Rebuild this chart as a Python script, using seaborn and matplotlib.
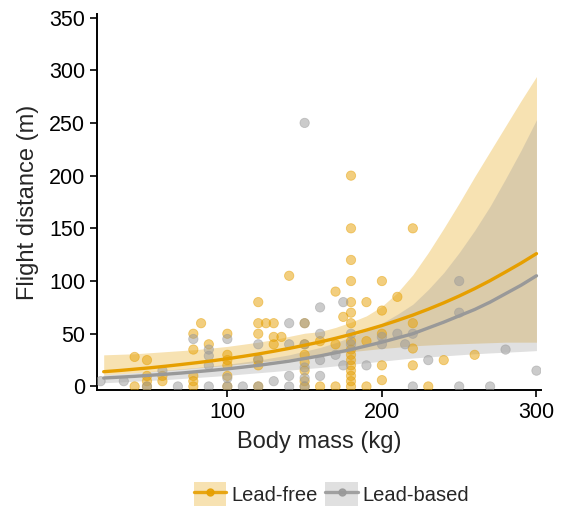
import numpy as np
import pandas as pd
import matplotlib
matplotlib.use("Agg")
import matplotlib.pyplot as plt
import seaborn as sns
from matplotlib.patches import Patch
from matplotlib.lines import Line2D

free_mass = [40, 40, 48, 48, 48, 48, 58, 58, 83, 78, 78, 78, 78, 78, 88,
             100, 100, 100, 100, 100, 100, 120, 120, 125, 130, 120, 130, 135, 130, 120,
             120, 120, 140, 150, 150, 150, 150, 150, 150, 150, 160, 160, 170, 175, 170,
             170, 180, 180, 180, 180, 180, 180, 180, 180, 180, 180, 180, 180, 180, 180,
             180, 180, 190, 190, 190, 200, 200, 200, 200, 200, 210, 220, 220, 220, 220,
             230, 240, 260]
free_dist = [28, 0, 25, 10, 5, 0, 10, 5, 60, 50, 35, 10, 5, 0, 40,
             50, 30, 25, 20, 10, 0, 80, 60, 60, 60, 50, 47, 47, 40, 25,
             20, 0, 105, 60, 40, 30, 23, 15, 5, 0, 43, 0, 90, 66, 40,
             0, 200, 150, 120, 100, 80, 70, 60, 43, 35, 30, 25, 20, 15, 10,
             5, 0, 80, 43, 0, 100, 72, 50, 20, 6, 85, 150, 60, 36, 20,
             0, 25, 30]

based_mass = [18, 33, 48, 58, 68, 78, 88, 88, 88, 88, 100, 100, 100, 110, 120,
              120, 120, 130, 140, 140, 140, 140, 150, 150, 150, 150, 150, 150, 160, 160,
              160, 160, 170, 175, 175, 180, 180, 190, 200, 200, 210, 215, 220, 220, 230,
              250, 250, 250, 270, 280, 300]
based_dist = [5, 5, 0, 15, 0, 45, 35, 29, 20, 0, 45, 8, 0, 0, 40,
              26, 0, 5, 60, 40, 10, 0, 250, 60, 40, 18, 8, 0, 75, 50,
              25, 10, 30, 80, 20, 50, 40, 20, 47, 40, 50, 40, 50, 0, 25,
              100, 70, 0, 0, 35, 15]

# fitted curves and confidence bands, read at every 10 kg from 20 to 300
fit_mass = list(range(20, 301, 10))
free_fit = [14.0, 15.1, 16.4, 17.7, 19.2, 20.8, 22.5, 24.3, 26.3, 28.5,
            30.8, 33.4, 36.1, 39.1, 42.2, 45.7, 49.4, 53.5, 57.8, 62.6,
            67.7, 73.3, 79.3, 85.8, 92.8, 100.4, 108.6, 117.0, 126.0]
free_lo = [11, 12, 13, 14, 15, 16.2, 17.5, 18.8, 20, 21.5,
           23, 24.5, 26, 27.8, 29.5, 31.2, 33, 34.5, 36, 37.2,
           38.5, 39.3, 40, 40.5, 41, 41.5, 42, 42, 42]
free_hi = [30, 30.5, 31, 32, 33, 34, 35, 36.5, 38, 40,
           42, 44.5, 47.5, 50.5, 52, 56, 61, 67, 76, 89,
           106, 127, 150, 174, 199, 223, 247, 271, 294]
based_fit = [8, 8.8, 9.6, 10.6, 11.6, 12.7, 14, 15.3, 16.7, 18.3,
             20, 22, 24, 26.5, 29, 32, 35, 38.5, 42, 46,
             50, 55.5, 61, 67, 73, 80, 88, 96, 105]
based_lo = [3.5, 4.2, 5, 5.8, 6.5, 7.5, 8.5, 9.5, 10.5, 11.8,
            13, 14.2, 15.5, 16.8, 18, 19.5, 21, 22.5, 24, 25.5,
            27, 28, 29, 30, 31, 31.8, 32.5, 33.2, 34]
based_hi = [11, 12, 13, 14.2, 15.5, 16.7, 18, 19.5, 21, 23,
            25, 27.5, 30, 33.5, 37, 41.5, 47, 53, 60, 68.5,
            78, 92, 108, 127, 148, 171, 197, 224, 253]

orange = "#E69F00"
grey = "#999999"

pts = pd.concat([
    pd.DataFrame({"mass": free_mass, "dist": free_dist, "group": "Lead-free"}),
    pd.DataFrame({"mass": based_mass, "dist": based_dist, "group": "Lead-based"}),
], ignore_index=True)
fits = pd.concat([
    pd.DataFrame({"mass": fit_mass, "fit": free_fit, "group": "Lead-free"}),
    pd.DataFrame({"mass": fit_mass, "fit": based_fit, "group": "Lead-based"}),
], ignore_index=True)
pal = {"Lead-free": orange, "Lead-based": grey}

sns.set_style("ticks")
plt.rcParams['font.family'] = ['Liberation Sans', 'DejaVu Sans']

fig = plt.figure(figsize=(5.61, 5.12), dpi=100)
ax = fig.add_axes([0.173, 0.238, 0.791, 0.735])

ax.fill_between(fit_mass, free_lo, free_hi, color=orange, alpha=0.3, lw=0)
ax.fill_between(fit_mass, based_lo, based_hi, color=grey, alpha=0.3, lw=0)

sns.scatterplot(data=pts, x="mass", y="dist", hue="group", palette=pal,
                s=45, alpha=0.5, edgecolor="face", linewidth=0.6,
                legend=False, ax=ax, zorder=3)
sns.lineplot(data=fits, x="mass", y="fit", hue="group", palette=pal,
             linewidth=2.4, legend=False, ax=ax, zorder=4)

ax.set_xlim(15.7, 302.8)
ax.set_ylim(-3.5, 353.5)
ax.set_xticks([100, 200, 300])
ax.set_yticks(range(0, 351, 50))
ax.set_xlabel("Body mass (kg)", fontsize=17, labelpad=6)
ax.set_ylabel("Flight distance (m)", fontsize=17, labelpad=7)
ax.tick_params(labelsize=15.5, length=5, width=1.2, color="black", labelcolor="black")
for s in ["left", "bottom"]:
    ax.spines[s].set_linewidth(1.4)
    ax.spines[s].set_color("black")
sns.despine(ax=ax)

handles = []
for c in [orange, grey]:
    handles.append((Patch(facecolor=c, alpha=0.3, edgecolor="none"),
                    Line2D([], [], color=c, lw=2.4, marker="o", markersize=5,
                           markerfacecolor=c, markeredgecolor=c, alpha=0.9)))
fig.legend(handles, ["Lead-free", "Lead-based"], loc="center",
           bbox_to_anchor=(0.591, 0.035), ncol=2, frameon=False, fontsize=14.5,
           handlelength=1.6, handleheight=1.4, handletextpad=0.25, columnspacing=0.4)

fig.savefig("out.png", dpi=100)
